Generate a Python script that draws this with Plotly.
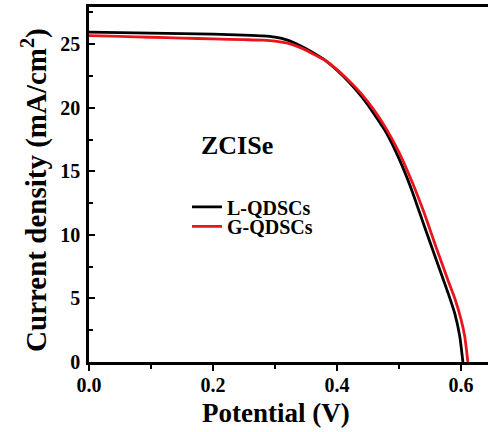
import plotly.graph_objects as go

# ---- data ----
v_l = [0.00, 0.05, 0.10, 0.15, 0.20, 0.25, 0.28, 0.30, 0.32, 0.34, 0.36, 0.38, 0.40,
       0.42, 0.44, 0.46, 0.48, 0.50, 0.52, 0.54, 0.56, 0.58, 0.59, 0.598, 0.603]
j_l = [25.95, 25.92, 25.88, 25.84, 25.79, 25.72, 25.66, 25.56, 25.33, 24.90, 24.38, 23.77, 22.95,
       21.98, 20.85, 19.50, 18.00, 16.00, 13.60, 10.80, 8.05, 5.30, 3.80, 2.00, 0.0]

v_g = [0.00, 0.05, 0.10, 0.15, 0.20, 0.25, 0.28, 0.30, 0.32, 0.34, 0.36, 0.38, 0.40,
       0.42, 0.44, 0.46, 0.48, 0.50, 0.52, 0.54, 0.56, 0.58, 0.59, 0.60, 0.606, 0.611]
j_g = [25.68, 25.62, 25.55, 25.48, 25.42, 25.36, 25.32, 25.25, 25.08, 24.75, 24.28, 23.76, 23.00,
       22.08, 21.05, 19.80, 18.30, 16.50, 14.30, 11.80, 9.00, 6.30, 5.00, 3.35, 2.00, 0.0]

series_names = ["L-QDSCs", "G-QDSCs"]
series_colors = ["#000000", "#e8161c"]

x_ticks = [0.0, 0.2, 0.4, 0.6]
x_ticktext = ["0.0", "0.2", "0.4", "0.6"]
y_ticks = [0, 5, 10, 15, 20, 25]

FONT = "Liberation Serif"
leg_font = dict(family=FONT, size=20, color="black", weight="bold")

fig = go.Figure()
fig.add_trace(go.Scatter(x=v_l, y=j_l, mode="lines", name=series_names[0], legend="legend",
                         line=dict(color=series_colors[0], width=2.8, shape="spline", smoothing=0.5)))
fig.add_trace(go.Scatter(x=v_g, y=j_g, mode="lines", name=series_names[1], legend="legend2",
                         line=dict(color=series_colors[1], width=2.8, shape="spline", smoothing=0.5)))

fig.update_layout(
    width=488, height=432,
    margin=dict(l=89, r=0, t=7, b=70),
    paper_bgcolor="white", plot_bgcolor="white",
    font=dict(family=FONT, color="black"),
    showlegend=True,
    legend=dict(x=0.2456, y=0.492, xanchor="left", yanchor="top",
                bgcolor="rgba(0,0,0,0)", borderwidth=0, font=leg_font),
    legend2=dict(x=0.2456, y=0.437, xanchor="left", yanchor="top",
                 bgcolor="rgba(0,0,0,0)", borderwidth=0, font=leg_font),
    hovermode=False,
)

fig.update_xaxes(
    range=[0, 0.6435], showgrid=False, zeroline=False,
    showline=True, linecolor="black", linewidth=2.5, mirror=True,
    tickmode="array", tickvals=x_ticks, ticktext=x_ticktext,
    ticks="outside", ticklen=6, tickwidth=2, tickcolor="black",
    minor=dict(dtick=0.1, tick0=0, ticks="outside", ticklen=4, tickwidth=2, tickcolor="black", showgrid=False),
    tickfont=dict(family=FONT, size=20, color="black", weight="bold"),
    ticklabelstandoff=-3,
)
fig.update_yaxes(
    range=[0, 27.93], showgrid=False, zeroline=False,
    showline=True, linecolor="black", linewidth=2.5, mirror=False,
    tickmode="array", tickvals=y_ticks,
    ticks="inside", ticklen=6, tickwidth=2, tickcolor="black",
    minor=dict(dtick=2.5, tick0=0, ticks="inside", ticklen=4, tickwidth=2, tickcolor="black", showgrid=False),
    tickfont=dict(family=FONT, size=20, color="black", weight="bold"),
    ticklabelstandoff=2,
)

fig.add_annotation(text="ZCISe", xref="paper", yref="paper", x=0.371, y=0.611,
                   xanchor="center", yanchor="middle",
                   showarrow=False, font=dict(family=FONT, size=26, color="black", weight="bold"))
fig.add_annotation(text="Potential (V)", xref="paper", yref="paper", x=0.469, y=-0.144,
                   xanchor="center", yanchor="middle",
                   showarrow=False, font=dict(family=FONT, size=27, color="black", weight="bold"))
fig.add_annotation(text="Current density (mA/cm<sup>2</sup>)", xref="paper", yref="paper",
                   x=-0.138, y=0.4845, textangle=-90, xanchor="center", yanchor="middle",
                   showarrow=False, font=dict(family=FONT, size=29, color="black", weight="bold"))

fig.write_html("out.html", config={"displayModeBar": False},
               post_script="document.body.style.margin='0';document.body.style.padding='0';")
